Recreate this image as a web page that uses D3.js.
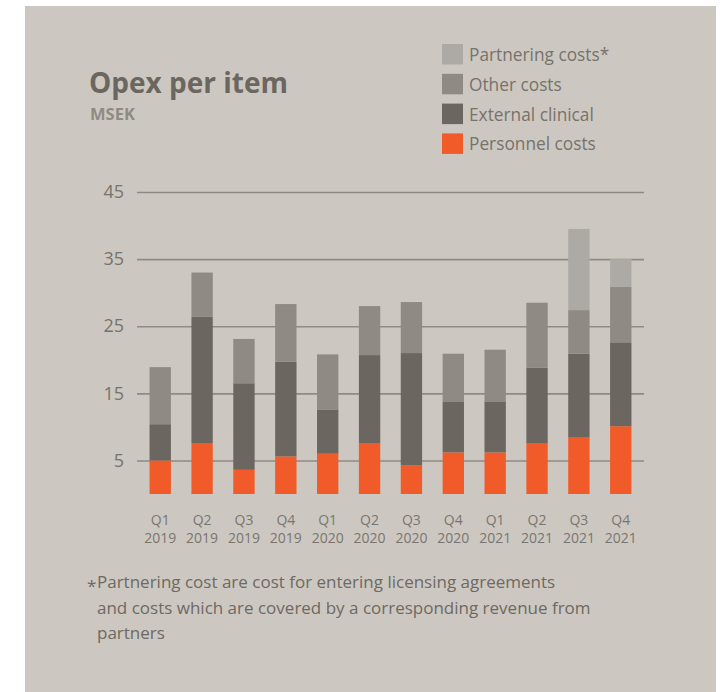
<!DOCTYPE html>
<html>
<head>
<meta charset="utf-8">
<script src="https://cdn.jsdelivr.net/npm/d3@7"></script>
<style>
  body { margin: 0; background: #fff; }
  svg { display: block; font-family: "Open Sans", Lato, sans-serif; }
</style>
</head>
<body>
<svg id="chart"></svg>
<script>
const quarters = ["Q1", "Q2", "Q3", "Q4", "Q1", "Q2", "Q3", "Q4", "Q1", "Q2", "Q3", "Q4"];
const years = ["2019", "2019", "2019", "2019", "2020", "2020", "2020", "2020", "2021", "2021", "2021", "2021"];
const personnel = [5.0, 7.6, 3.6, 5.6, 6.0, 7.6, 4.3, 6.2, 6.2, 7.6, 8.4, 10.1];
const external = [5.4, 18.8, 12.9, 14.1, 6.6, 13.1, 16.7, 7.6, 7.6, 11.2, 12.5, 12.5];
const other = [8.5, 6.6, 6.6, 8.6, 8.2, 7.3, 7.6, 7.1, 7.7, 9.7, 6.5, 8.3];
const partnering = [0, 0, 0, 0, 0, 0, 0, 0, 0, 0, 12.1, 4.1];
const yTicks = [5, 15, 25, 35, 45];
const seriesNames = ["Personnel costs", "External clinical", "Other costs", "Partnering costs*"];

const width = 721, height = 692;
const colors = {
  "Personnel costs": "#f15a29",
  "External clinical": "#6b6660",
  "Other costs": "#8f8a84",
  "Partnering costs*": "#adaaa5"
};

const svg = d3.select("#chart")
  .attr("width", width)
  .attr("height", height);

// panel background
svg.append("rect")
  .attr("x", 25).attr("y", 6)
  .attr("width", 691).attr("height", height - 6)
  .attr("fill", "#ccc8c1");

const data = quarters.map((q, i) => ({
  key: q + " " + years[i],
  q, year: years[i],
  "Personnel costs": personnel[i],
  "External clinical": external[i],
  "Other costs": other[i],
  "Partnering costs*": partnering[i]
}));

const x = d3.scaleBand()
  .domain(data.map(d => d.key))
  .range([137, 644])
  .paddingInner(0.49)
  .paddingOuter(0.3);

const y = d3.scaleLinear()
  .domain([0, 45])
  .range([494, 192]);

// grid lines + y labels
const yAxis = svg.append("g")
  .attr("transform", "translate(137,0)")
  .call(d3.axisLeft(y).tickValues(yTicks).tickSize(-507).tickPadding(13));
yAxis.select(".domain").remove();
yAxis.selectAll(".tick line")
  .attr("stroke", "#8f8a84")
  .attr("stroke-width", 1.6);
yAxis.selectAll(".tick text")
  .attr("fill", "#77726c")
  .style("font-size", "18px")
  .style("font-family", "\"Open Sans\", sans-serif");

// stacked bars
const stack = d3.stack().keys(seriesNames)(data);

svg.append("g")
  .selectAll("g")
  .data(stack)
  .join("g")
  .attr("fill", s => colors[s.key])
  .selectAll("rect")
  .data(s => s.filter(d => d[1] - d[0] > 0))
  .join("rect")
  .attr("x", d => x(d.data.key))
  .attr("width", x.bandwidth())
  .attr("y", d => y(d[1]))
  .attr("height", d => y(d[0]) - y(d[1]));

// x labels (quarter on top, year below)
const cx = d => x(d.key) + x.bandwidth() / 2;
const xl = svg.append("g")
  .attr("fill", "#7a756f")
  .style("font-size", "14px")
  .attr("text-anchor", "middle");
xl.selectAll("text.q")
  .data(data)
  .join("text")
  .attr("class", "q")
  .attr("x", cx).attr("y", 525)
  .text(d => d.q);
xl.selectAll("text.yr")
  .data(data)
  .join("text")
  .attr("class", "yr")
  .attr("x", cx).attr("y", 543)
  .text(d => d.year);

// title
svg.append("text")
  .attr("x", 89).attr("y", 93)
  .attr("fill", "#6b6660")
  .style("font-size", "28px")
  .style("font-weight", "bold")
  .text("Opex per item");

svg.append("text")
  .attr("x", 90).attr("y", 120)
  .attr("fill", "#8f8a84")
  .style("font-size", "16.5px")
  .style("font-weight", "bold")
  .text("MSEK");

// legend
const legendOrder = ["Partnering costs*", "Other costs", "External clinical", "Personnel costs"];
const legend = svg.append("g")
  .selectAll("g")
  .data(legendOrder)
  .join("g")
  .attr("transform", (d, i) => `translate(442,${44 + i * 29.8})`);
legend.append("rect")
  .attr("width", 21).attr("height", 20.5)
  .attr("fill", d => colors[d]);
legend.append("text")
  .attr("x", 27).attr("y", 17)
  .attr("fill", "#77726c")
  .style("font-size", "17.3px")
  .text(d => d);

// footnote
const notes = [
  "Partnering cost are cost for entering licensing agreements",
  "and costs which are covered by a corresponding revenue from",
  "partners"
];
svg.append("text")
  .attr("x", 87).attr("y", 592)
  .attr("fill", "#6e6963")
  .style("font-size", "17px")
  .text("*");
svg.append("g")
  .selectAll("text")
  .data(notes)
  .join("text")
  .attr("x", 97)
  .attr("y", (d, i) => 588 + i * 25.5)
  .attr("fill", "#6e6963")
  .style("font-size", "17px")
  .text(d => d);
</script>
</body>
</html>
